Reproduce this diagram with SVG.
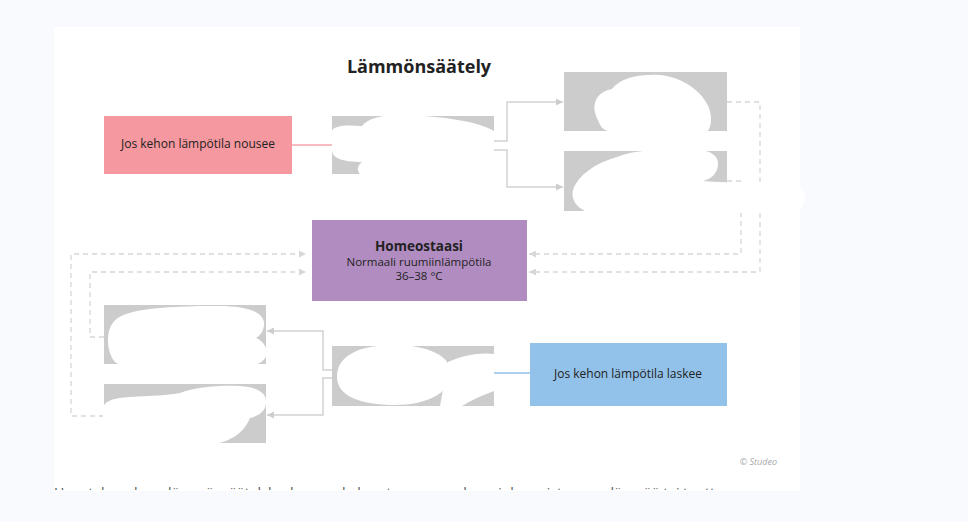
<svg xmlns="http://www.w3.org/2000/svg" width="968" height="522" viewBox="0 0 968 522">
<defs>
<style>
text{font-family:"Open Sans","Noto Sans","Liberation Sans",sans-serif;fill:#222}
.gray{fill:#cccccc}
.blob{fill:#ffffff}
.solid{fill:none;stroke:#d2d2d2;stroke-width:1.5}
.dash{fill:none;stroke:#d6d6d6;stroke-width:1.3;stroke-dasharray:5 4}
.lbl{font-size:12px;text-anchor:middle}
.sub{font-size:11.5px;text-anchor:middle}
</style>
<marker id="ah" viewBox="0 0 10 10" refX="10" refY="5" markerWidth="7" markerHeight="7" markerUnits="userSpaceOnUse" orient="auto">
<path d="M0,0 L10,5 L0,10 Z" fill="#cdcdcd"/>
</marker>
<marker id="ahd" viewBox="0 0 10 10" refX="10" refY="5" markerWidth="7" markerHeight="7" markerUnits="userSpaceOnUse" orient="auto">
<path d="M0,0 L10,5 L0,10 Z" fill="#d8d8d8"/>
</marker>
<clipPath id="cap"><rect x="0" y="0" width="968" height="490"/></clipPath>
</defs>
<rect width="968" height="522" fill="#f9fafd"/>
<rect x="54" y="27" width="746" height="464" fill="#ffffff"/>
<text x="419" y="73" text-anchor="middle" font-size="18" font-weight="bold" fill="#111">Lämmönsäätely</text>

<g id="connectors">
<line x1="292" y1="145" x2="332" y2="145" stroke="#f4a5ac" stroke-width="1.5"/>
<line x1="494" y1="373" x2="530" y2="373" stroke="#92c1e8" stroke-width="1.5"/>
<path class="solid" d="M494,141 H507 V102 H563" marker-end="url(#ah)"/>
<path class="solid" d="M494,150 H507 V187 H563" marker-end="url(#ah)"/>
<path class="solid" d="M332,370 H323 V331 H267" marker-end="url(#ah)"/>
<path class="solid" d="M332,378 H323 V415 H267" marker-end="url(#ah)"/>
<path class="dash" d="M727,102 H760 V272 H529" marker-end="url(#ahd)"/>
<path class="dash" d="M727,181 H741 V254 H529" marker-end="url(#ahd)"/>
<path class="dash" d="M104,337 H90 V272 H306" marker-end="url(#ahd)"/>
<path class="dash" d="M104,416 H71 V254 H306" marker-end="url(#ahd)"/>
</g>

<g id="n-nousee">
<rect x="104" y="116" width="188" height="58" fill="#f5989f"/>
<text class="lbl" x="198" y="148">Jos kehon lämpötila nousee</text>
</g>
<g id="n-top-mid"><rect class="gray" x="332" y="116" width="162" height="58"/></g>
<g id="n-top-r1"><rect class="gray" x="564" y="72" width="163" height="59"/></g>
<g id="n-top-r2"><rect class="gray" x="564" y="151" width="163" height="60"/></g>
<g id="n-homeo">
<rect x="312" y="220" width="215" height="81" fill="#b18cc1"/>
<text x="419" y="251" text-anchor="middle" font-size="13.5" font-weight="bold" fill="#111">Homeostaasi</text>
<text class="sub" x="419" y="265.5">Normaali ruumiinlämpötila</text>
<text class="sub" x="419" y="279.5">36–38 °C</text>
</g>
<g id="n-bot-l1"><rect class="gray" x="104" y="305" width="162" height="59"/></g>
<g id="n-bot-l2"><rect class="gray" x="104" y="384" width="162" height="59"/></g>
<g id="n-bot-mid"><rect class="gray" x="332" y="346" width="162" height="60"/></g>
<g id="n-laskee">
<rect x="530" y="343" width="197" height="63" fill="#92c2e9"/>
<text class="lbl" x="628" y="378">Jos kehon lämpötila laskee</text>
</g>

<g id="blobs">
<path class="blob" d="M332,131 C334,125 348,125 362,126 C368,118 382,115 402,115 C440,116 478,121 494,131 L494,180 C450,177 400,176 362,176 C356,171 357,166 362,162 C345,162 332,159 332,150 Z"/>
<path class="blob" d="M598,120 C590,105 596,92 612,89 C620,78 640,74 660,75 C690,78 711,100 711,118 C711,126 709,131 706,132 L612,132 C603,131 600,126 598,120 Z"/>
<path class="blob" d="M573,190 C578,175 596,163 617,157 C630,152 645,150 660,150 L700,150 C712,151 719,157 718,165 C717,174 711,179 703,181 C740,184 790,183 800,188 C808,193 806,205 798,210 C790,214 780,213 760,213 L585,211 C575,206 571,198 573,190 Z"/>
<path class="blob" d="M108,340 C108,326 114,318 126,314 C142,308 180,306 212,306 C242,305 262,310 264,322 C265,330 260,336 256,338 C265,342 268,350 266,356 C263,366 240,372 200,372 C160,372 125,370 115,362 C110,356 108,348 108,340 Z"/>
<path class="blob" d="M103,410 C103,400 115,398 130,397 C150,396 170,395 180,393 C195,387 220,385 240,386 C258,387 268,394 266,404 C265,412 258,416 250,418 C245,430 235,440 215,444 C180,447 130,446 103,444 Z"/>
<path class="blob" d="M337,378 C336,358 355,346 390,345 C425,344 450,355 451,372 C452,392 428,405 395,405 C360,405 338,396 337,378 Z"/>
<path class="blob" d="M448,362 C462,355 482,352 494,354 L494,391 C480,396 470,401 462,406 L440,406 Z"/>
</g>

<text x="777" y="465" text-anchor="end" font-size="9" font-style="italic" style="fill:#a8a8a8">© Studeo</text>
<g clip-path="url(#cap)">
<text x="54" y="496.5" font-size="12" textLength="706" lengthAdjust="spacingAndGlyphs" style="fill:#555">Hypotalamuksen lämmönsäätelykeskus saa kehon tarpeen mukaan joko poistamaan lämpöä tai tuottamaan</text>
</g>
</svg>
